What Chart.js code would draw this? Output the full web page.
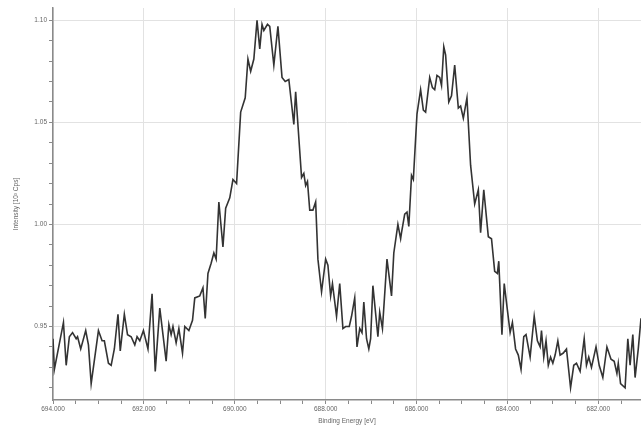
<!DOCTYPE html>
<html>
<head>
<meta charset="utf-8">
<script src="https://cdn.jsdelivr.net/npm/chart.js@4.4.1/dist/chart.umd.min.js"></script>
<style>
    html, body { margin: 0; padding: 0; background: #ffffff; }
    #wrap { width: 641px; height: 428px; }
</style>
</head>
<body>
<div id="wrap"><canvas id="xpsChart" width="641" height="428"></canvas></div>
<script>
// Binding energy (eV), left to right (high -> low)
const energies = [
    694.00, 693.97, 693.77, 693.71, 693.64, 693.57, 693.49, 693.46, 693.39, 693.28,
    693.22, 693.16, 693.00, 692.92, 692.87, 692.78, 692.72, 692.65, 692.57, 692.52,
    692.43, 692.36, 692.28, 692.20, 692.15, 692.09, 692.01, 691.91, 691.82, 691.75,
    691.65, 691.51, 691.45, 691.40, 691.36, 691.29, 691.23, 691.15, 691.10, 691.01,
    690.93, 690.88, 690.77, 690.70, 690.65, 690.59, 690.52, 690.46, 690.41, 690.35,
    690.26, 690.20, 690.11, 690.04, 689.96, 689.87, 689.77, 689.71, 689.65, 689.58,
    689.51, 689.45, 689.40, 689.36, 689.28, 689.23, 689.14, 689.05, 688.96, 688.89,
    688.81, 688.70, 688.66, 688.53, 688.48, 688.44, 688.40, 688.35, 688.28, 688.22,
    688.17, 688.09, 688.00, 687.95, 687.89, 687.85, 687.76, 687.69, 687.62, 687.56,
    687.48, 687.43, 687.36, 687.31, 687.25, 687.20, 687.16, 687.10, 687.05, 687.01,
    686.96, 686.85, 686.81, 686.75, 686.65, 686.55, 686.50, 686.41, 686.35, 686.33,
    686.26, 686.21, 686.17, 686.11, 686.07, 685.99, 685.91, 685.85, 685.80, 685.71,
    685.65, 685.60, 685.55, 685.49, 685.45, 685.40, 685.36, 685.29, 685.23, 685.16,
    685.08, 685.03, 684.97, 684.89, 684.81, 684.72, 684.64, 684.59, 684.52, 684.42,
    684.35, 684.28, 684.22, 684.19, 684.12, 684.07, 684.00, 683.94, 683.89, 683.82,
    683.76, 683.70, 683.64, 683.59, 683.50, 683.41, 683.34, 683.28, 683.25, 683.20,
    683.15, 683.10, 683.05, 683.00, 682.95, 682.89, 682.84, 682.77, 682.70, 682.61,
    682.54, 682.48, 682.40, 682.31, 682.26, 682.21, 682.15, 682.05, 681.98, 681.90,
    681.81, 681.72, 681.65, 681.59, 681.56, 681.51, 681.41, 681.35, 681.30, 681.24,
    681.19, 681.12, 681.06
];

// Intensity (10^3 cps)
const intensities = [
    0.944, 0.929, 0.952, 0.931, 0.945, 0.947, 0.944, 0.945, 0.939, 0.948,
    0.941, 0.922, 0.948, 0.943, 0.943, 0.932, 0.931, 0.939, 0.956, 0.938,
    0.956, 0.946, 0.945, 0.941, 0.945, 0.943, 0.948, 0.939, 0.966, 0.928,
    0.959, 0.933, 0.951, 0.946, 0.950, 0.942, 0.949, 0.937, 0.950, 0.948,
    0.953, 0.964, 0.965, 0.969, 0.954, 0.976, 0.981, 0.986, 0.983, 1.011,
    0.989, 1.008, 1.013, 1.022, 1.020, 1.055, 1.062, 1.081, 1.075, 1.081,
    1.100, 1.086, 1.098, 1.095, 1.098, 1.097, 1.078, 1.097, 1.072, 1.070,
    1.071, 1.049, 1.065, 1.023, 1.025, 1.019, 1.021, 1.007, 1.007, 1.011,
    0.983, 0.967, 0.983, 0.980, 0.965, 0.971, 0.955, 0.971, 0.949, 0.950,
    0.950, 0.955, 0.964, 0.940, 0.949, 0.947, 0.962, 0.944, 0.939, 0.944,
    0.970, 0.945, 0.957, 0.949, 0.983, 0.965, 0.986, 1.000, 0.993, 0.996,
    1.005, 1.006, 0.999, 1.024, 1.022, 1.054, 1.066, 1.056, 1.055, 1.072,
    1.067, 1.066, 1.073, 1.072, 1.068, 1.087, 1.083, 1.060, 1.063, 1.078,
    1.057, 1.058, 1.052, 1.062, 1.029, 1.010, 1.017, 0.996, 1.017, 0.994,
    0.993, 0.977, 0.976, 0.982, 0.946, 0.971, 0.958, 0.947, 0.952, 0.939,
    0.936, 0.929, 0.945, 0.946, 0.935, 0.955, 0.943, 0.940, 0.948, 0.935,
    0.943, 0.931, 0.935, 0.932, 0.936, 0.943, 0.936, 0.937, 0.939, 0.920,
    0.931, 0.932, 0.928, 0.944, 0.931, 0.935, 0.930, 0.940, 0.931, 0.925,
    0.940, 0.934, 0.933, 0.927, 0.932, 0.922, 0.920, 0.944, 0.931, 0.946,
    0.925, 0.939, 0.954
];

// Labelled ticks
const xMajorTicks = [694, 692, 690, 688, 686, 684, 682];
const yMajorTicks = [0.95, 1.00, 1.05, 1.10];

const X_MIN = 681.06, X_MAX = 694.0;
const Y_MIN = 0.914, Y_MAX = 1.106;

function isMajor(list, v) {
    return list.some(m => Math.abs(m - v) < 1e-6);
}

function stepTicks(from, to, step) {
    const out = [];
    const n = Math.round((to - from) / step);
    for (let i = 0; i <= n; i++) {
        out.push({ value: +(from + i * step).toFixed(4) });
    }
    return out;
}

const tickFont = { family: 'Arial, "Liberation Sans", sans-serif', size: 6.5 };
const gridColor = ctx => (ctx.tick && ctx.tick.major ? '#e2e2e2' : 'rgba(0,0,0,0)');

const ctx = document.getElementById('xpsChart');
new Chart(ctx, {
    type: 'line',
    data: {
        datasets: [{
            data: energies.map((e, i) => ({ x: e, y: intensities[i] })),
            borderColor: '#333333',
            borderWidth: 1.6,
            pointRadius: 0,
            tension: 0,
            fill: false
        }]
    },
    options: {
        responsive: false,
        animation: false,
        events: [],
        layout: { padding: { top: 8, right: 0, bottom: 0, left: 0 } },
        plugins: {
            legend: { display: false },
            tooltip: { enabled: false }
        },
        scales: {
            x: {
                type: 'linear',
                reverse: true,
                min: X_MIN,
                max: X_MAX,
                afterBuildTicks: scale => {
                    scale.ticks = stepTicks(681.5, 694, 0.5).map(t => ({
                        value: t.value,
                        major: isMajor(xMajorTicks, t.value)
                    }));
                },
                afterFit: scale => { scale.height = 28; },
                border: { color: '#8a8a8a', width: 1.5 },
                grid: {
                    color: gridColor,
                    lineWidth: 1,
                    drawTicks: true,
                    tickLength: 4,
                    tickColor: '#8a8a8a',
                    tickWidth: 1
                },
                ticks: {
                    autoSkip: false,
                    maxRotation: 0,
                    minRotation: 0,
                    padding: 1,
                    color: '#666666',
                    font: tickFont,
                    callback: v => (isMajor(xMajorTicks, v) ? v.toFixed(3) : '')
                },
                title: {
                    display: true,
                    text: 'Binding Energy [eV]',
                    color: '#666666',
                    font: tickFont,
                    padding: { top: 0, bottom: 3 }
                }
            },
            y: {
                type: 'linear',
                min: Y_MIN,
                max: Y_MAX,
                afterBuildTicks: scale => {
                    scale.ticks = stepTicks(0.92, 1.10, 0.01).map(t => ({
                        value: t.value,
                        major: isMajor(yMajorTicks, t.value)
                    }));
                },
                afterFit: scale => { scale.width = 53; },
                border: { color: '#8a8a8a', width: 1.5 },
                grid: {
                    color: gridColor,
                    lineWidth: 1,
                    drawTicks: true,
                    tickLength: 4,
                    tickColor: '#8a8a8a',
                    tickWidth: 1
                },
                ticks: {
                    autoSkip: false,
                    padding: 2,
                    color: '#666666',
                    font: tickFont,
                    callback: v => (isMajor(yMajorTicks, v) ? v.toFixed(2) : '')
                },
                title: {
                    display: true,
                    text: 'Intensity [10³ Cps]',
                    color: '#666666',
                    font: tickFont,
                    padding: { top: 12, bottom: 0 }
                }
            }
        }
    }
});
</script>
</body>
</html>
